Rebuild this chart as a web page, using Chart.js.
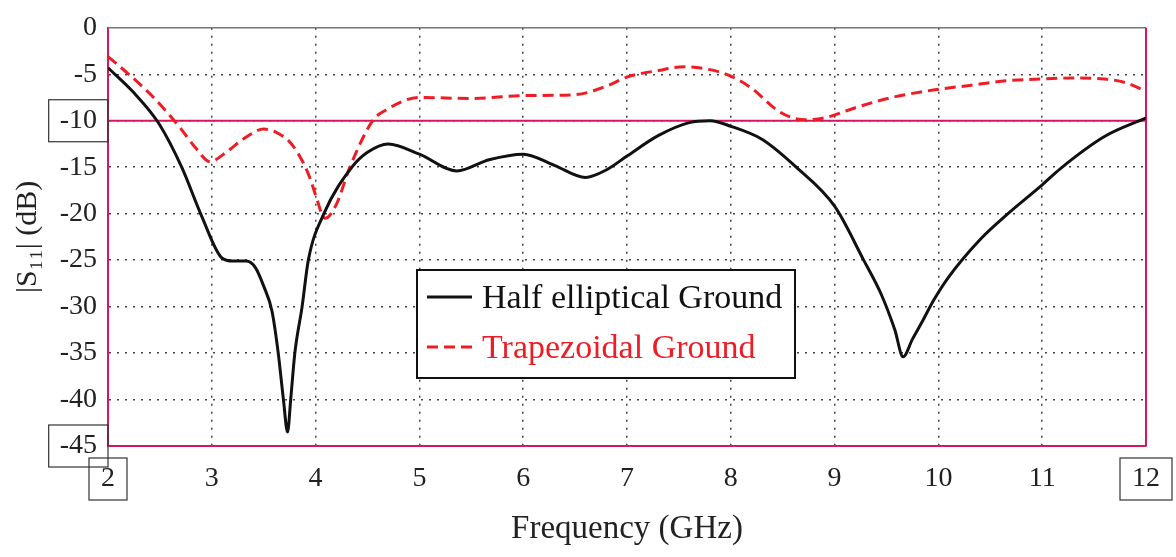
<!DOCTYPE html>
<html>
<head>
<meta charset="utf-8">
<script src="https://cdn.jsdelivr.net/npm/chart.js@4.4.1/dist/chart.umd.min.js"></script>
<style>
  html, body { margin: 0; padding: 0; background: #fff; }
  #wrap { width: 1176px; height: 557px; }
</style>
</head>
<body>
<div id="wrap"><canvas id="s11Chart" width="1176" height="557"></canvas></div>
<script>
// frequency (GHz) and |S11| (dB)
var freqHalf = [2, 2.25, 2.49, 2.71, 2.9, 3.1, 3.2, 3.33, 3.42, 3.5, 3.58, 3.64, 3.69, 3.73, 3.76, 3.8, 3.87, 3.93, 4.08, 4.35, 4.5, 4.7, 5.0, 5.36, 5.67, 6.0, 6.3, 6.6, 6.8, 7.0, 7.3, 7.6, 7.8, 8.0, 8.3, 8.63, 9.0, 9.28, 9.45, 9.58, 9.66, 9.75, 9.85, 9.95, 10.1, 10.4, 10.67, 11.0, 11.17, 11.6, 12];
var s11Half = [-4.3, -7.0, -10.3, -15, -20.2, -24.8, -25.1, -25.1, -25.8, -27.8, -30.5, -35, -40, -43.5, -40, -35, -30, -25, -20, -15, -13.4, -12.5, -13.6, -15.4, -14.2, -13.6, -14.8, -16.1, -15.3, -13.8, -11.6, -10.2, -10, -10.6, -12.0, -15, -19.2, -25, -28.7, -32.5, -35.4, -33.5, -31.5, -29.4, -26.8, -22.8, -20, -16.9, -15.2, -11.7, -9.7];

var freqTrap = [2, 2.2, 2.43, 2.69, 2.85, 2.98, 3.15, 3.3, 3.5, 3.63, 3.76, 3.88, 3.95, 4.0, 4.09, 4.2, 4.33, 4.55, 4.67, 5.0, 5.5, 6.0, 6.5, 6.8, 7.0, 7.3, 7.55, 7.8, 8.0, 8.2, 8.45, 8.6, 8.72, 8.9, 9.2, 9.55, 9.95, 10.3, 10.65, 11.0, 11.3, 11.6, 11.8, 12];
var s11Trap = [-3.1, -5.0, -7.4, -10.7, -13.0, -14.4, -13.3, -12.0, -10.9, -11.3, -12.4, -14.5, -16.3, -18, -20.5, -19.0, -15, -10, -8.9, -7.5, -7.6, -7.3, -7.2, -6.3, -5.3, -4.6, -4.2, -4.5, -5.2, -6.5, -8.9, -9.7, -9.9, -9.7, -8.6, -7.5, -6.7, -6.2, -5.7, -5.5, -5.4, -5.5, -5.9, -6.8];

var seriesNames = ["Half elliptical Ground", "Trapezoidal Ground"];
var xTicks = [2, 3, 4, 5, 6, 7, 8, 9, 10, 11, 12];
var yTicks = [0, -5, -10, -15, -20, -25, -30, -35, -40, -45];
var refLevel = -10;
var boxedY = [-10, -45];
var boxedX = [2, 12];

var MAGENTA = "#d6175f";
var RED = "#ee1c25";
var SERIF = "'Liberation Serif', 'DejaVu Serif', serif";

function toPoints(xs, ys) {
    var pts = [];
    for (var i = 0; i < xs.length; i++) {
        pts.push({x: xs[i], y: ys[i]});
    }
    return pts;
}

function gridColor(ctx, edges) {
    var v = ctx.tick ? ctx.tick.value : null;
    if (edges.indexOf(v) >= 0) return "rgba(0,0,0,0)";
    return "#444";
}

var decor = {
    id: 'decor',
    beforeDatasetsDraw: function (chart) {
        var ctx = chart.ctx, a = chart.chartArea, y = chart.scales.y;
        ctx.save();
        // top frame line (grey) and right frame line (magenta)
        ctx.strokeStyle = "#777";
        ctx.lineWidth = 1.5;
        ctx.beginPath();
        ctx.moveTo(a.left, a.top);
        ctx.lineTo(a.right, a.top);
        ctx.stroke();
        ctx.strokeStyle = MAGENTA;
        ctx.lineWidth = 2;
        ctx.beginPath();
        ctx.moveTo(a.right, a.top);
        ctx.lineTo(a.right, a.bottom);
        ctx.stroke();
        // -10 dB reference line
        var ry = y.getPixelForValue(refLevel);
        ctx.beginPath();
        ctx.moveTo(a.left, ry);
        ctx.lineTo(a.right, ry);
        ctx.stroke();
        ctx.restore();
    },
    afterDraw: function (chart) {
        var ctx = chart.ctx, a = chart.chartArea;
        var xs = chart.scales.x, ys = chart.scales.y;
        ctx.save();
        ctx.strokeStyle = "#333";
        ctx.lineWidth = 1.2;
        ctx.font = "28px " + SERIF;
        // boxes round some tick labels
        boxedY.forEach(function (v) {
            var w = ctx.measureText(String(v)).width;
            var right = a.left - ys.options.ticks.padding;
            var cy = ys.getPixelForValue(v);
            ctx.strokeRect(right - w - 11, cy - 21, w + 22, 42);
        });
        boxedX.forEach(function (v) {
            var w = ctx.measureText(String(v)).width;
            var cx = xs.getPixelForValue(v);
            var cy = a.bottom + xs.options.ticks.padding + 17;
            ctx.strokeRect(cx - w / 2 - 12, cy - 21, w + 24, 42);
        });

        // legend box inside the plot
        var lx = 417, ly = 270, lw = 378, lh = 108;
        ctx.fillStyle = "#fff";
        ctx.fillRect(lx, ly, lw, lh);
        ctx.strokeStyle = "#111";
        ctx.lineWidth = 2;
        ctx.strokeRect(lx, ly, lw, lh);
        ctx.font = "34px " + SERIF;
        ctx.textBaseline = "middle";
        chart.data.datasets.forEach(function (ds, i) {
            var rowY = ly + 27 + i * 50;
            ctx.strokeStyle = ds.borderColor;
            ctx.lineWidth = ds.borderWidth;
            ctx.setLineDash(ds.borderDash || []);
            ctx.beginPath();
            ctx.moveTo(lx + 10, rowY);
            ctx.lineTo(lx + 55, rowY);
            ctx.stroke();
            ctx.setLineDash([]);
            ctx.fillStyle = i === 0 ? "#111" : RED;
            ctx.fillText(ds.label, lx + 65, rowY + 2);
        });
        ctx.restore();
    }
};

var chartElem = document.getElementById("s11Chart");
var s11Chart = new Chart(chartElem, {
    type: 'line',
    data: {
        datasets: [
            {
                label: seriesNames[0],
                data: toPoints(freqHalf, s11Half),
                borderColor: "#111",
                borderWidth: 3,
                pointRadius: 0,
                fill: false,
                cubicInterpolationMode: 'monotone'
            },
            {
                label: seriesNames[1],
                data: toPoints(freqTrap, s11Trap),
                borderColor: RED,
                borderWidth: 3,
                borderDash: [11, 6],
                pointRadius: 0,
                fill: false,
                cubicInterpolationMode: 'monotone'
            }
        ]
    },
    options: {
        responsive: false,
        animation: false,
        layout: {padding: {top: 24, right: 28, left: 0, bottom: 0}},
        plugins: {
            legend: {display: false},
            tooltip: {enabled: false}
        },
        scales: {
            x: {
                type: 'linear',
                min: 2,
                max: 12,
                afterBuildTicks: function (s) {
                    s.ticks = xTicks.map(function (v) { return {value: v}; });
                },
                afterFit: function (s) { s.height = 111; },
                ticks: {
                    padding: 16,
                    color: "#222",
                    font: {family: SERIF, size: 28},
                    maxRotation: 0,
                    callback: function (v) { return String(v); }
                },
                grid: {
                    drawTicks: false,
                    lineWidth: 1.5,
                    color: function (c) { return gridColor(c, [2, 12]); }
                },
                border: {color: MAGENTA, width: 2, dash: [2, 6]},
                title: {
                    display: true,
                    text: "Frequency (GHz)",
                    color: "#222",
                    font: {family: SERIF, size: 33},
                    padding: {top: 0, bottom: 8}
                }
            },
            y: {
                type: 'linear',
                min: -45,
                max: 0,
                afterBuildTicks: function (s) {
                    s.ticks = yTicks.map(function (v) { return {value: v}; });
                },
                afterFit: function (s) { s.width = 108; },
                ticks: {
                    padding: 11,
                    color: "#222",
                    font: {family: SERIF, size: 28},
                    callback: function (v) { return String(v); }
                },
                grid: {
                    drawTicks: false,
                    lineWidth: 1.5,
                    color: function (c) { return gridColor(c, [0, -45]); }
                },
                border: {color: MAGENTA, width: 2, dash: [2, 6]},
                title: {
                    display: true,
                    text: "|S\u2081\u2081| (dB)",
                    color: "#222",
                    font: {family: SERIF, size: 30},
                    padding: {top: 10, bottom: 0}
                }
            }
        }
    },
    plugins: [decor]
});
</script>
</body>
</html>
